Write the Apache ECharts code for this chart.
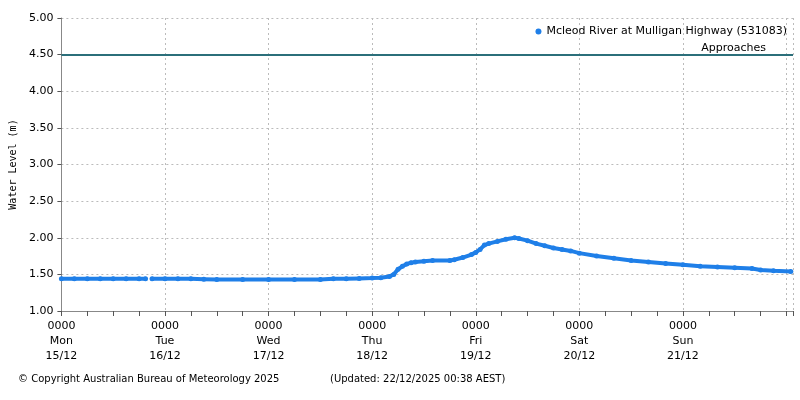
<!DOCTYPE html><html><head><meta charset="utf-8"><script src="https://cdn.jsdelivr.net/npm/echarts@6/dist/echarts.min.js"></script></head><body style="margin:0"><div id="c" style="width:800px;height:400px"></div><script>
const hours=[0,3,6,9,12,15,18,19.5,20,21,24,27,30,33,36,42,48,54,60,63,66,69,72,74,76,77,78,79,80,81,82,84,86,90,91,93,95,96,97,98,99,101,103,105,106,108,110,112,114,116,118,120,124,128,132,136,140,144,148,152,156,160,162,165,169];
const levels=[1.44,1.44,1.44,1.44,1.44,1.44,1.44,1.44,null,1.44,1.44,1.44,1.44,1.435,1.43,1.43,1.43,1.43,1.43,1.44,1.44,1.445,1.45,1.455,1.47,1.50,1.57,1.61,1.64,1.66,1.67,1.68,1.69,1.69,1.70,1.73,1.77,1.80,1.84,1.90,1.92,1.95,1.98,2.00,1.99,1.96,1.92,1.89,1.86,1.84,1.82,1.79,1.75,1.72,1.69,1.67,1.65,1.63,1.61,1.60,1.59,1.58,1.56,1.55,1.54];
const dayNames=['Mon','Tue','Wed','Thu','Fri','Sat','Sun'];
const dates=['15/12','16/12','17/12','18/12','19/12','20/12','21/12'];
const threshold=4.5, thresholdLabel='Approaches';
const f='DejaVu Sans';
const ch=echarts.init(document.getElementById('c'));
ch.setOption({animation:false,textStyle:{fontFamily:f},
grid:{left:57,right:7,top:18,bottom:89},
legend:{right:8,top:21,itemWidth:6,itemHeight:6,itemGap:4,icon:'circle',textStyle:{fontSize:11,color:'#000'},data:['Mcleod River at Mulligan Highway (531083)']},
xAxis:{type:'value',min:0,max:169.5,interval:24,
 axisLine:{lineStyle:{color:'#888'}},axisTick:{length:5,lineStyle:{color:'#555'}},
 minorTick:{show:true,splitNumber:4,length:5,lineStyle:{color:'#555'}},
 splitLine:{lineStyle:{type:[2,3],color:'#bbb'}},
 axisLabel:{fontSize:11,color:'#000',lineHeight:15,showMaxLabel:false,formatter:v=>{const i=Math.round(v/24);return i<7?'0000\n'+dayNames[i]+'\n'+dates[i]:'';}}},
yAxis:{type:'value',min:1,max:5,interval:0.5,name:'Water Level (m)',nameLocation:'middle',nameGap:38,nameTextStyle:{fontFamily:'DejaVu Sans Mono',fontSize:10,color:'#000'},
 axisLine:{show:true,lineStyle:{color:'#888'}},axisTick:{show:true,length:4,lineStyle:{color:'#555'}},
 splitLine:{lineStyle:{type:[2,3],color:'#bbb'}},
 axisLabel:{fontSize:11,color:'#000',formatter:v=>v.toFixed(2)}},
series:[{name:'Mcleod River at Mulligan Highway (531083)',type:'line',data:hours.map((h,i)=>[h,levels[i]]),
 color:'#1f7fe8',lineStyle:{width:4},symbol:'circle',symbolSize:5,showAllSymbol:true,connectNulls:false,
 markLine:{silent:true,symbol:'none',lineStyle:{color:'#2b6f7a',width:2,type:'solid'},
  label:{position:'insideEndTop',formatter:thresholdLabel,color:'#000',fontSize:11,distance:[27,1]},data:[{yAxis:threshold}]}}],
graphic:[{type:'text',left:18,top:374,style:{text:'© Copyright Australian Bureau of Meteorology 2025',font:'10px DejaVu Sans',fill:'#000'}},
{type:'text',left:330,top:374,style:{text:'(Updated: 22/12/2025 00:38 AEST)',font:'10px DejaVu Sans',fill:'#000'}}]
});
</script></body></html>
